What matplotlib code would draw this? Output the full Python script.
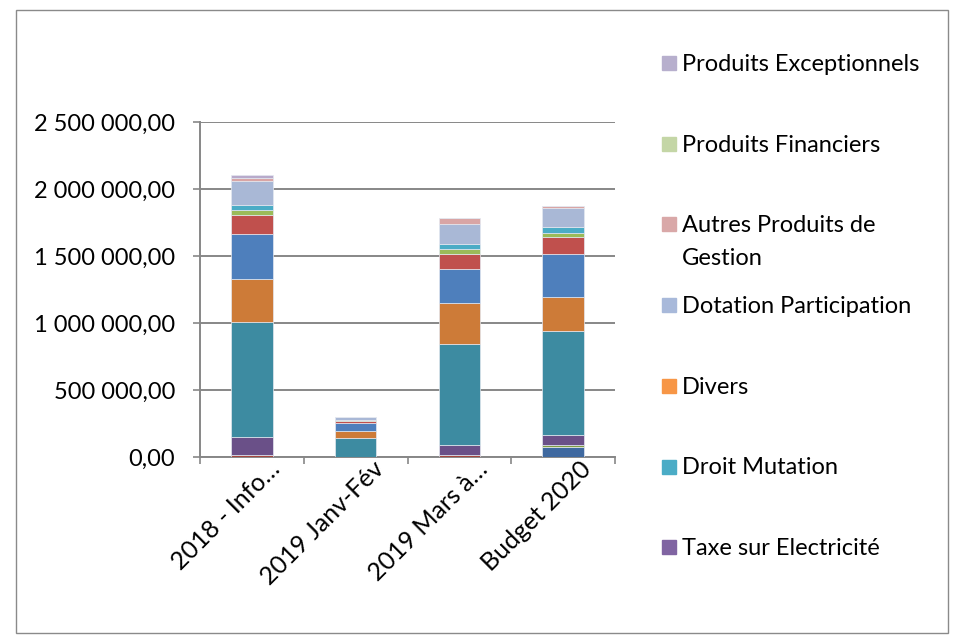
import matplotlib
matplotlib.use("Agg")
import matplotlib.pyplot as plt
import matplotlib.transforms as mtransforms
from matplotlib.patches import Rectangle
from matplotlib.ticker import FuncFormatter, FixedLocator

plt.rcParams['font.family'] = ['Lato', 'DejaVu Sans']

categories = ["2018 - Info…", "2019 Janv-Fév", "2019 Mars à…", "Budget 2020"]

# stacked segments, bottom to top
seg_colors = ["#3F69A0", "#A5473F", "#7F9B44", "#6A5088", "#3D8BA1", "#CD7B38",
              "#4E7FBC", "#C0504D", "#9BBB59", "#4BACC6", "#A9B8D6", "#D9A5A5", "#B8AACB"]
seg_values = [
    [0, 0, 0, 72000],
    [15000, 0, 12000, 0],
    [0, 0, 0, 20000],
    [132000, 0, 80000, 71000],
    [864000, 142000, 753000, 776000],
    [319000, 55000, 304000, 254000],
    [336000, 55000, 256000, 324000],
    [137000, 20000, 111000, 122000],
    [43000, 3000, 37000, 36000],
    [32000, 3000, 36000, 39000],
    [179000, 22000, 149000, 146000],
    [28000, 0, 43000, 13000],
    [17000, 0, 0, 0],
]

legend_labels = ["Produits Exceptionnels", "Produits Financiers", "Autres Produits de\nGestion",
                 "Dotation Participation", "Divers", "Droit Mutation", "Taxe sur Electricité"]
legend_colors = ["#B7AFCD", "#C4D6A6", "#D9A8A8", "#A8B9DA", "#F79646", "#4BACC6", "#8064A2"]

fs = 17

fig = plt.figure(figsize=(9.62, 6.37), dpi=100)
ax = fig.add_axes([200 / 962, 1 - 457 / 637, 415 / 962, 335 / 637])

x = range(len(categories))
bottom = [0] * len(categories)
for vals, col in zip(seg_values, seg_colors):
    ax.bar(x, vals, width=0.4, bottom=bottom, color=col, edgecolor="#E4E8F0", linewidth=0.5, zorder=3)
    bottom = [b + v for b, v in zip(bottom, vals)]

grey = "#878787"
ax.set_xlim(-0.5, 3.5)
ax.set_ylim(0, 2500000)
ax.set_yticks(range(0, 2500001, 500000))
ax.yaxis.set_major_formatter(FuncFormatter(lambda v, p: f"{v:,.2f}".replace(",", " ").replace(".", ",")))
ax.grid(axis="y", color=grey, linewidth=1.4, zorder=0)
for s in ["top", "right"]:
    ax.spines[s].set_visible(False)
for s in ["left", "bottom"]:
    ax.spines[s].set_color(grey)
    ax.spines[s].set_linewidth(1.4)
ax.tick_params(axis="y", length=5, width=1.2, color=grey, pad=13, labelsize=fs)
ax.set_xticks(list(x))
ax.set_xticklabels(categories, rotation=45, ha="right", rotation_mode="anchor", fontsize=18)
ax.tick_params(axis="x", which="major", length=0, pad=0)
shift = mtransforms.ScaledTranslation(16 / 100, 0, fig.dpi_scale_trans)
for lbl in ax.get_xticklabels():
    lbl.set_transform(lbl.get_transform() + shift)
ax.xaxis.set_minor_locator(FixedLocator([-0.5, 0.5, 1.5, 2.5, 3.5]))
ax.tick_params(axis="x", which="minor", length=5, width=1.2, color=grey)

# legend drawn by hand: Excel places it with wide, even spacing
y0 = 63
for i, (lab, col) in enumerate(zip(legend_labels, legend_colors)):
    yc = y0 + i * 80.7
    fig.patches.append(Rectangle((662 / 962, 1 - (yc + 7) / 637), 14 / 962, 14 / 637,
                                 transform=fig.transFigure, color=col))
    for k, line in enumerate(lab.split("\n")):
        fig.text(682 / 962, 1 - (yc + 8 + 33 * k) / 637, line, fontsize=fs,
                 va="baseline", ha="left")

# outer chart border
fig.patches.append(Rectangle((16 / 962, 1 - 633 / 637), 932 / 962, 623 / 637,
                             transform=fig.transFigure, fill=False, edgecolor="#8A8A8A", linewidth=1))

fig.savefig("out.png", dpi=100)
